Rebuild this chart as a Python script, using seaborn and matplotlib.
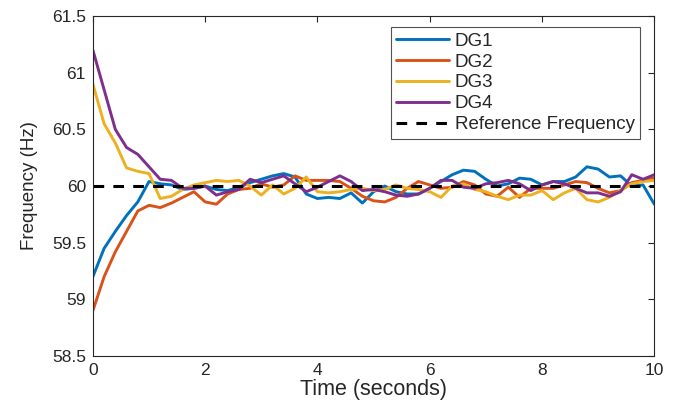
import numpy as np
import pandas as pd
import matplotlib
matplotlib.use("Agg")
import matplotlib.pyplot as plt
import seaborn as sns
from matplotlib.lines import Line2D

time_s = [round(0.2 * i, 1) for i in range(51)]

dg1 = [59.20, 59.45, 59.60, 59.74, 59.86, 60.04, 60.02, 60.01, 59.97, 59.98,
       60.00, 59.97, 59.96, 59.99, 60.03, 60.06, 60.09, 60.11, 60.08, 59.93,
       59.89, 59.90, 59.89, 59.94, 59.85, 59.95, 60.00, 59.95, 59.93, 59.93,
       59.98, 60.04, 60.10, 60.14, 60.13, 60.06, 60.00, 60.02, 60.07, 60.06,
       60.01, 60.04, 60.04, 60.08, 60.17, 60.15, 60.08, 60.09, 60.00, 60.01,
       59.84]
dg2 = [58.90, 59.20, 59.42, 59.60, 59.78, 59.83, 59.81, 59.85, 59.90, 59.95,
       59.86, 59.84, 59.93, 59.97, 59.98, 60.02, 59.99, 60.01, 60.09, 60.05,
       60.05, 60.05, 60.04, 59.98, 59.91, 59.87, 59.86, 59.90, 59.98, 60.04,
       60.01, 59.98, 59.99, 60.04, 60.01, 59.93, 59.91, 59.99, 59.90, 59.98,
       59.98, 59.98, 60.01, 60.04, 60.03, 59.98, 59.94, 59.96, 60.03, 60.05,
       60.07]
dg3 = [60.90, 60.55, 60.38, 60.16, 60.13, 60.11, 59.89, 59.91, 59.97, 60.01,
       60.03, 60.05, 60.04, 60.05, 60.00, 59.92, 60.01, 59.93, 59.98, 60.08,
       59.95, 59.94, 59.95, 59.97, 59.98, 59.96, 59.97, 60.01, 59.98, 59.97,
       59.95, 59.90, 60.00, 60.02, 59.97, 59.95, 59.91, 59.88, 59.92, 59.92,
       59.96, 59.88, 59.94, 59.98, 59.88, 59.86, 59.90, 59.96, 60.02, 60.04,
       60.05]
dg4 = [61.20, 60.85, 60.50, 60.34, 60.28, 60.17, 60.06, 60.05, 59.98, 59.98,
       60.00, 59.92, 59.95, 59.97, 60.06, 60.03, 60.06, 60.09, 60.02, 59.95,
       59.99, 60.04, 60.09, 60.04, 59.96, 59.97, 59.95, 59.92, 59.91, 59.93,
       59.98, 60.05, 60.05, 59.99, 59.98, 60.02, 60.03, 60.05, 60.02, 59.96,
       60.01, 60.04, 60.02, 59.98, 59.94, 59.94, 59.91, 59.95, 60.10, 60.06,
       60.10]
ref_freq = [60.0] * len(time_s)

series_names = ["DG1", "DG2", "DG3", "DG4"]
series_values = [dg1, dg2, dg3, dg4]
colors = ["#0072BD", "#D95319", "#EDB120", "#7E2F8E"]

xticks = [0, 2, 4, 6, 8, 10]
yticks = [58.5, 59, 59.5, 60, 60.5, 61, 61.5]
ytick_labels = ["58.5", "59", "59.5", "60", "60.5", "61", "61.5"]

df = pd.concat([pd.DataFrame({"t": time_s, "f": v, "unit": n})
                for n, v in zip(series_names, series_values)], ignore_index=True)
ref_df = pd.DataFrame({"t": time_s, "f": ref_freq})

sns.set_style("white")
plt.rcParams["font.family"] = ["Liberation Sans", "DejaVu Sans"]

fig = plt.figure(figsize=(6.78, 4.13), dpi=100)
ax = fig.add_axes([0.137, 0.138, 0.828, 0.823])

sns.lineplot(data=df, x="t", y="f", hue="unit", palette=colors,
             linewidth=2.1, ax=ax, legend=False)
sns.lineplot(data=ref_df, x="t", y="f", color="black", linewidth=2.2,
             linestyle=(0, (3.5, 3.0)), ax=ax, legend=False)

ax.set_xlim(0, 10)
ax.set_ylim(58.5, 61.5)
ax.set_xticks(xticks)
ax.set_xticklabels([str(x) for x in xticks])
ax.set_yticks(yticks)
ax.set_yticklabels(ytick_labels)
ax.tick_params(direction="in", length=4, width=0.8, top=True, right=True,
               labelsize=12.5, colors="#262626", pad=5)
for sp in ax.spines.values():
    sp.set_visible(True)
    sp.set_color("#262626")
    sp.set_linewidth(0.8)

ax.set_xlabel("Time (seconds)", fontsize=15.5, color="#262626", labelpad=1)
ax.set_ylabel("Frequency (Hz)", fontsize=13.5, color="#262626", labelpad=10)

handles = [Line2D([], [], color=c, lw=2.1) for c in colors]
handles.append(Line2D([], [], color="black", lw=2.2, linestyle=(0, (3.5, 3.0))))
leg = ax.legend(handles, series_names + ["Reference Frequency"],
                loc="upper right", bbox_to_anchor=(0.975, 0.968),
                frameon=True, fancybox=False, edgecolor="#262626",
                fontsize=13.5, handlelength=2.8, handletextpad=0.3,
                labelspacing=0.2, borderpad=0.3, borderaxespad=0)
leg.get_frame().set_linewidth(0.8)

fig.savefig("out.png", dpi=100, facecolor="white")
